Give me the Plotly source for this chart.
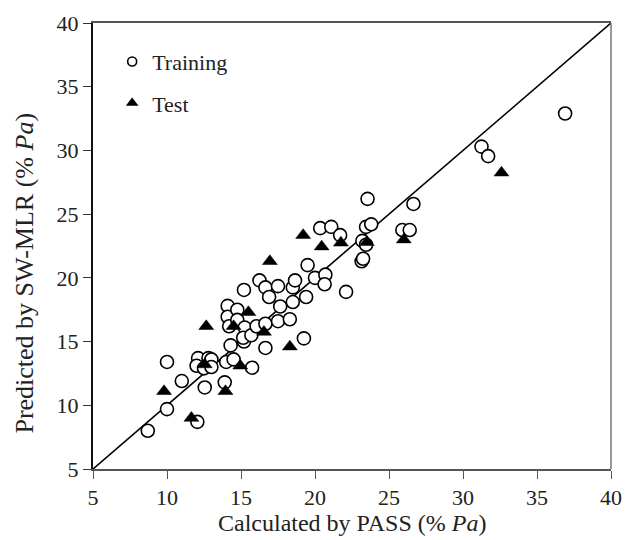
import plotly.graph_objects as go

# Training set (Calculated by PASS, Predicted by SW-MLR)
train_x = [8.7, 10.0, 10.0, 11.0, 12.05, 12.1, 12.0, 12.5, 12.55, 12.8, 13.0, 13.0,
           13.9, 14.0, 14.5, 14.3, 14.1, 14.1, 14.2, 14.75, 14.75, 15.2, 15.25, 15.2,
           15.15, 15.7, 15.75, 16.05, 16.25, 16.65, 16.65, 16.65, 16.9, 17.5, 17.5, 17.65,
           18.3, 18.5, 18.5, 18.65, 19.25, 19.4, 19.5, 20.0, 20.35, 20.7, 20.65, 21.1,
           21.7, 22.1, 23.15, 23.25, 23.2, 23.45, 23.45, 23.55, 23.8, 25.9, 26.4, 26.65,
           31.25, 31.7, 36.9]
train_y = [8.0, 9.7, 13.4, 11.9, 8.7, 13.7, 13.1, 12.9, 11.4, 13.7, 13.6, 13.0,
           11.8, 13.4, 13.6, 14.7, 17.8, 16.95, 16.2, 17.5, 16.7, 19.05, 16.1, 15.0,
           15.3, 15.5, 12.95, 16.2, 19.8, 19.25, 16.4, 14.5, 18.5, 19.35, 16.6, 17.75,
           16.75, 18.1, 19.25, 19.8, 15.25, 18.5, 21.0, 20.0, 23.9, 20.25, 19.5, 24.0,
           23.35, 18.9, 21.3, 21.5, 22.9, 22.6, 24.0, 26.2, 24.2, 23.75, 23.75, 25.8,
           30.3, 29.55, 32.9]

# Test set
test_x = [9.8, 11.65, 12.55, 12.65, 13.95, 14.5, 14.95, 15.5, 16.55, 16.95, 18.3,
          19.2, 20.45, 21.75, 23.5, 26.0, 32.6]
test_y = [11.1, 9.0, 13.2, 16.2, 11.1, 16.2, 13.1, 17.3, 15.75, 21.3, 14.6,
          23.35, 22.45, 22.75, 22.8, 23.0, 28.25]

# Ideal line y = x
line_x = [5, 40]
line_y = [5, 40]

ticks = [5, 10, 15, 20, 25, 30, 35, 40]

FONT = "Liberation Serif, Times New Roman, serif"

fig = go.Figure()
fig.add_trace(go.Scatter(x=line_x, y=line_y, mode="lines",
                         line=dict(color="black", width=1.6), showlegend=False,
                         hoverinfo="skip"))
fig.add_trace(go.Scatter(x=train_x, y=train_y, mode="markers", showlegend=False,
                         marker=dict(symbol="circle", size=13, color="white",
                                     line=dict(color="black", width=1.6))))
fig.add_trace(go.Scatter(x=test_x, y=test_y, mode="markers", showlegend=False,
                         marker=dict(symbol="triangle-up", size=13, color="black",
                                     line=dict(color="black", width=0.5))))
# legend entries
fig.add_trace(go.Scatter(x=[None], y=[None], mode="markers", name="Training",
                         legend="legend",
                         marker=dict(symbol="circle", size=9, color="white",
                                     line=dict(color="black", width=1.6))))
fig.add_trace(go.Scatter(x=[None], y=[None], mode="markers", name="Test",
                         legend="legend2",
                         marker=dict(symbol="triangle-up", size=11, color="black")))

axis_common = dict(range=[5, 40], tickvals=ticks, ticks="outside", ticklen=8,
                   tickwidth=1.2, showgrid=False, zeroline=False, showline=True,
                   tickfont=dict(family=FONT, size=22, color="#222"))

fig.update_xaxes(**axis_common, linecolor="#555", linewidth=1.5, tickcolor="#555",
                 mirror=True)
fig.update_yaxes(**axis_common, linecolor="#111", linewidth=2, tickcolor="#333")

legend_common = dict(font=dict(family=FONT, size=22, color="#222"),
                     bgcolor="rgba(0,0,0,0)", borderwidth=0, itemwidth=30,
                     xanchor="left", yanchor="middle")
fig.update_layout(
    width=633, height=540,
    margin=dict(l=93, r=11, t=23, b=71),
    paper_bgcolor="white", plot_bgcolor="white",
    legend=dict(**legend_common, x=0.037, y=(469.3 - 61.5) / 446.6),
    legend2=dict(**legend_common, x=0.037, y=(469.3 - 103) / 446.6),
    annotations=[
        dict(text="Calculated by PASS (% <i>Pa</i>)", xref="paper", yref="paper",
             x=0.5, y=-0.088, xanchor="center", yanchor="top", showarrow=False,
             font=dict(family=FONT, size=24, color="#222")),
        dict(text="Predicted by SW-MLR (% <i>Pa</i>)", xref="paper", yref="paper",
             x=-0.133, y=(469.3 - 273.5) / 446.6, xanchor="center", yanchor="middle",
             textangle=-90, showarrow=False,
             font=dict(family=FONT, size=26, color="#222")),
    ],
    shapes=[dict(type="line", xref="paper", yref="paper", x0=1, x1=1, y0=0, y1=1,
                 line=dict(color="#777", width=1.5))],
)

fig.write_html("out.html")
